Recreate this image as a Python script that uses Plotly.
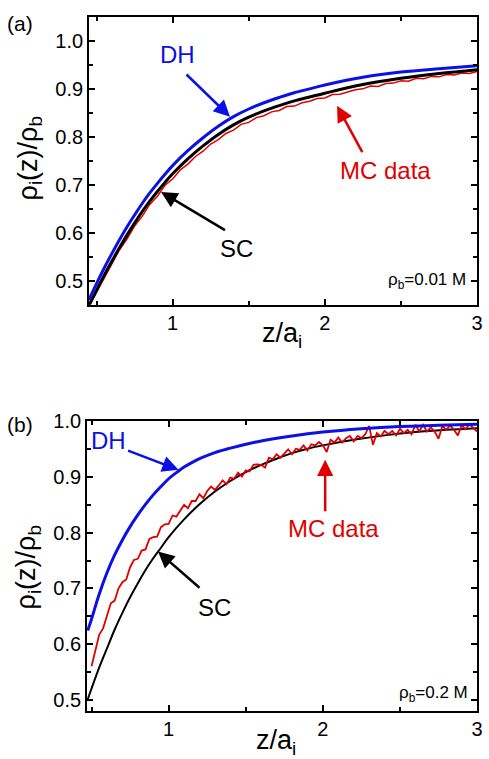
import plotly.graph_objects as go

# ---------------- Panel (a): rho_b = 0.01 M ----------------
x_curve_a = [0.45, 0.5, 0.55, 0.6, 0.65, 0.7, 0.75, 0.8, 0.85, 0.9, 0.95, 1.0, 1.1, 1.2, 1.3, 1.4, 1.5, 1.6,
             1.7, 1.8, 1.9, 2.0, 2.25, 2.5, 2.75, 3.0]
dh_a = [0.460, 0.494, 0.526, 0.556, 0.585, 0.612, 0.637, 0.661, 0.683, 0.703, 0.722, 0.740, 0.771, 0.798, 0.822,
        0.842, 0.858, 0.871, 0.882, 0.892, 0.900, 0.908, 0.924, 0.935, 0.942, 0.948]
sc_a = [0.448, 0.480, 0.511, 0.540, 0.568, 0.595, 0.620, 0.644, 0.666, 0.686, 0.705, 0.723, 0.754, 0.781, 0.805,
        0.825, 0.841, 0.854, 0.865, 0.875, 0.883, 0.891, 0.909, 0.922, 0.932, 0.940]

x_mc_a = [0.45, 0.50, 0.55, 0.60, 0.65, 0.70, 0.75, 0.80, 0.85, 0.90, 0.95, 1.00, 1.05, 1.10, 1.15, 1.20,
          1.25, 1.30, 1.35, 1.40, 1.45, 1.50, 1.55, 1.60, 1.65, 1.70, 1.75, 1.80, 1.85, 1.90, 1.95, 2.00,
          2.05, 2.10, 2.15, 2.20, 2.25, 2.30, 2.35, 2.40, 2.45, 2.50, 2.55, 2.60, 2.65, 2.70, 2.75, 2.80,
          2.85, 2.90, 2.95, 3.00]
mc_a = [0.446, 0.476, 0.506, 0.533, 0.564, 0.587, 0.614, 0.634, 0.659, 0.676, 0.699, 0.712, 0.731, 0.743, 0.759, 0.770,
        0.785, 0.794, 0.807, 0.814, 0.826, 0.830, 0.840, 0.844, 0.852, 0.855, 0.863, 0.864, 0.871, 0.874, 0.880, 0.881,
        0.888, 0.889, 0.894, 0.898, 0.900, 0.906, 0.905, 0.911, 0.912, 0.917, 0.916, 0.922, 0.921, 0.926, 0.925, 0.930,
        0.929, 0.933, 0.932, 0.936]

# ---------------- Panel (b): rho_b = 0.2 M ----------------
x_dh_b = [0.475, 0.5, 0.55, 0.6, 0.65, 0.7, 0.75, 0.8, 0.85, 0.9, 0.95, 1.0, 1.05, 1.1, 1.15, 1.2, 1.3, 1.4, 1.5,
          1.6, 1.8, 2.0, 2.25, 2.5, 2.75, 3.0]
dh_b = [0.624, 0.645, 0.690, 0.728, 0.760, 0.787, 0.811, 0.832, 0.851, 0.868, 0.883, 0.897, 0.908, 0.918, 0.926,
        0.933, 0.944, 0.952, 0.959, 0.965, 0.974, 0.981, 0.987, 0.991, 0.993, 0.995]

x_sc_b = [0.475, 0.5, 0.55, 0.6, 0.65, 0.7, 0.75, 0.8, 0.85, 0.9, 0.95, 1.0, 1.1, 1.2, 1.3, 1.4, 1.5, 1.6, 1.7,
          1.8, 1.9, 2.0, 2.2, 2.4, 2.6, 2.8, 3.0]
sc_b = [0.500, 0.520, 0.558, 0.592, 0.626, 0.656, 0.684, 0.709, 0.733, 0.754, 0.773, 0.792, 0.824, 0.851, 0.874,
        0.893, 0.909, 0.922, 0.933, 0.943, 0.951, 0.957, 0.967, 0.975, 0.981, 0.985, 0.988]

x_mc_b = [0.500, 0.525, 0.550, 0.575, 0.600, 0.625, 0.650, 0.675, 0.700, 0.725, 0.750, 0.775, 0.800, 0.825,
          0.850, 0.875, 0.900, 0.925, 0.950, 0.975, 1.000, 1.025, 1.050, 1.075, 1.100, 1.125, 1.150, 1.175,
          1.200, 1.225, 1.250, 1.275, 1.300, 1.325, 1.350, 1.375, 1.400, 1.425, 1.450, 1.475, 1.500, 1.525,
          1.550, 1.575, 1.600, 1.625, 1.650, 1.675, 1.700, 1.725, 1.750, 1.775, 1.800, 1.825, 1.850, 1.875,
          1.900, 1.925, 1.950, 1.975, 2.000, 2.025, 2.050, 2.075, 2.100, 2.125, 2.150, 2.175, 2.200, 2.225,
          2.250, 2.275, 2.300, 2.325, 2.350, 2.375, 2.400, 2.425, 2.450, 2.475, 2.500, 2.525, 2.550, 2.575,
          2.600, 2.625, 2.650, 2.675, 2.700, 2.725, 2.750, 2.775, 2.800, 2.825, 2.850, 2.875, 2.900, 2.925,
          2.950, 2.975, 3.000]
mc_b = [0.560, 0.587, 0.617, 0.628, 0.652, 0.673, 0.678, 0.700, 0.711, 0.716, 0.738, 0.751, 0.753, 0.768,
        0.770, 0.789, 0.792, 0.793, 0.810, 0.815, 0.816, 0.831, 0.829, 0.839, 0.850, 0.844, 0.857, 0.857,
        0.869, 0.862, 0.875, 0.883, 0.877, 0.885, 0.894, 0.887, 0.899, 0.897, 0.908, 0.901, 0.912, 0.910,
        0.922, 0.923, 0.922, 0.917, 0.935, 0.932, 0.941, 0.935, 0.943, 0.950, 0.941, 0.951, 0.949, 0.957,
        0.948, 0.959, 0.957, 0.963, 0.957, 0.945, 0.967, 0.962, 0.971, 0.962, 0.970, 0.974, 0.964, 0.974,
        0.970, 0.977, 0.992, 0.958, 0.979, 0.973, 0.983, 0.977, 0.983, 0.975, 0.987, 0.979, 0.985, 0.977,
        0.994, 0.982, 0.994, 0.982, 0.989, 0.982, 0.969, 0.992, 0.985, 0.993, 0.985, 0.975, 0.993, 0.986,
        0.995, 0.988, 0.982]

y_ticks = [0.5, 0.6, 0.7, 0.8, 0.9, 1.0]
x_ticks = [1, 2, 3]
x_tick_text = ["1", "2", "3"]

BLUE = "#0a10e6"
RED = "#e00000"
FONT = "Liberation Sans, Arial, sans-serif"
W, H = 489, 759

fig = go.Figure()
# panel a
fig.add_trace(go.Scatter(x=x_mc_a, y=mc_a, mode="lines", line=dict(color=RED, width=1.5), xaxis="x", yaxis="y"))
fig.add_trace(go.Scatter(x=x_curve_a, y=sc_a, mode="lines", line=dict(color="black", width=3, shape="spline"), xaxis="x", yaxis="y"))
fig.add_trace(go.Scatter(x=x_curve_a, y=dh_a, mode="lines", line=dict(color=BLUE, width=3, shape="spline"), xaxis="x", yaxis="y"))
# panel b
fig.add_trace(go.Scatter(x=x_sc_b, y=sc_b, mode="lines", line=dict(color="black", width=2, shape="spline"), xaxis="x2", yaxis="y2"))
fig.add_trace(go.Scatter(x=x_mc_b, y=mc_b, mode="lines", line=dict(color=RED, width=1.8), xaxis="x2", yaxis="y2"))
fig.add_trace(go.Scatter(x=x_dh_b, y=dh_b, mode="lines", line=dict(color=BLUE, width=3, shape="spline"), xaxis="x2", yaxis="y2"))


def px_x(p):
    return p / W


def px_y(p):
    return 1 - p / H


common_axis = dict(showline=True, linecolor="black", linewidth=1.5, mirror="ticks", ticks="inside",
                   ticklen=6, tickwidth=1.5, tickcolor="black", showgrid=False, zeroline=False,
                   ticklabeloverflow="allow",
                   tickfont=dict(family=FONT, size=20, color="black"))

xa = dict(common_axis, tickvals=x_ticks, ticktext=x_tick_text,
          minor=dict(ticks="inside", ticklen=4, tickwidth=1.5, tickcolor="black", tickvals=[0.5, 1.5, 2.5]))
ya = dict(common_axis, tickvals=y_ticks, tickformat=".1f",
          minor=dict(ticks="inside", ticklen=4, tickwidth=1.5, tickcolor="black", dtick=0.05, tick0=0))

fig.update_layout(
    width=W, height=H, margin=dict(l=0, r=0, t=0, b=0),
    paper_bgcolor="white", plot_bgcolor="white", showlegend=False,
    xaxis=dict(xa, domain=[px_x(90), px_x(483)], anchor="y", range=[0.45, 3.0]),
    yaxis=dict(ya, domain=[px_y(298), px_y(6)], anchor="x", range=[0.45, 1.05]),
    xaxis2=dict(xa, domain=[px_x(88), px_x(483)], anchor="y2", range=[0.47, 3.0]),
    yaxis2=dict(ya, domain=[px_y(710), px_y(416.5)], anchor="x2", range=[0.48, 1.0]),
)

ann = []


def text(x, y, s, color, size, xref, yref, xanchor="center"):
    ann.append(dict(x=x, y=y, xref=xref, yref=yref, text=s, showarrow=False, xanchor=xanchor,
                    yanchor="middle", font=dict(family=FONT, size=size, color=color)))


def arrow(tx, ty, sx, sy, color, xr, yr):
    ann.append(dict(x=tx, y=ty, ax=sx, ay=sy, xref=xr, yref=yr, axref=xr, ayref=yr, text=" ",
                    font=dict(family=FONT, size=2, color=color),
                    showarrow=True, arrowhead=2, arrowsize=1.3, arrowwidth=2.5, arrowcolor=color,
                    standoff=0, startstandoff=0))


# panel (a)
text(1.03, 0.971, "DH", BLUE, 24, "x", "y")
arrow(1.377, 0.842, 1.078, 0.934, BLUE, "x", "y")
text(2.40, 0.730, "MC data", RED, 24, "x", "y")
arrow(2.08, 0.865, 2.255, 0.763, RED, "x", "y")
text(1.42, 0.567, "SC", "black", 24, "x", "y")
arrow(0.924, 0.685, 1.357, 0.603, "black", "x", "y")
text(2.94, 0.50, "ρ<sub>b</sub>=0.01 M", "black", 17, "x", "y", xanchor="right")

# panel (b)
text(0.609, 0.965, "DH", BLUE, 24, "x2", "y2")
arrow(1.064, 0.913, 0.724, 0.949, BLUE, "x2", "y2")
text(2.07, 0.807, "MC data", RED, 24, "x2", "y2")
arrow(2.015, 0.931, 2.015, 0.834, RED, "x2", "y2")
text(1.30, 0.665, "SC", "black", 24, "x2", "y2")
arrow(0.931, 0.766, 1.213, 0.698, "black", "x2", "y2")
text(2.955, 0.51, "ρ<sub>b</sub>=0.2 M", "black", 17, "x2", "y2", xanchor="right")

# panel labels and axis titles (paper coords)
for s, px, py in [("(a)", 20, 13), ("(b)", 20, 420)]:
    ann.append(dict(x=px_x(px), y=px_y(py), xref="paper", yref="paper", text=s, showarrow=False,
                    xanchor="center", yanchor="middle", font=dict(family=FONT, size=21, color="black")))
for px, py in [(30, 150), (28, 565)]:
    ann.append(dict(x=px_x(px), y=px_y(py), xref="paper", yref="paper",
                    text="ρ<sub>i</sub>(z)/ρ<sub>b</sub>", textangle=-90, showarrow=False,
                    xanchor="center", yanchor="middle", font=dict(family=FONT, size=27, color="black")))
for px, py in [(286, 329), (279, 742)]:
    ann.append(dict(x=px_x(px), y=px_y(py), xref="paper", yref="paper",
                    text="z/a<sub>i</sub>", showarrow=False,
                    xanchor="center", yanchor="middle", font=dict(family=FONT, size=27, color="black")))

fig.update_layout(annotations=ann)
fig.write_html("out.html", config={"displayModeBar": False},
               post_script="document.body.style.margin='0';document.body.style.overflow='hidden';")
